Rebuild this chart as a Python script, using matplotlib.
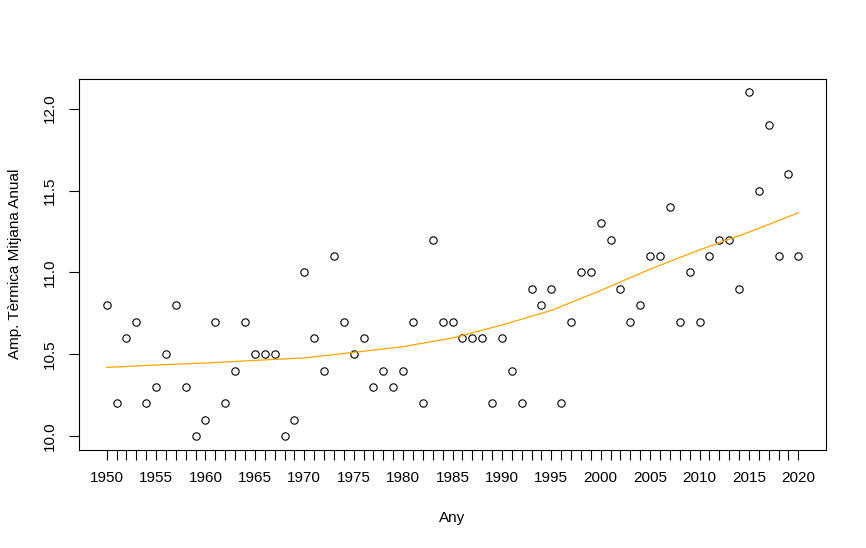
import matplotlib
matplotlib.use("Agg")
import matplotlib.pyplot as plt
import numpy as np

years = list(range(1950, 2021))
values = [10.8, 10.2, 10.6, 10.7, 10.2, 10.3, 10.5, 10.8, 10.3, 10.0,
          10.1, 10.7, 10.2, 10.4, 10.7, 10.5, 10.5, 10.5, 10.0, 10.1,
          11.0, 10.6, 10.4, 11.1, 10.7, 10.5, 10.6, 10.3, 10.4, 10.3,
          10.4, 10.7, 10.2, 11.2, 10.7, 10.7, 10.6, 10.6, 10.6, 10.2,
          10.6, 10.4, 10.2, 10.9, 10.8, 10.9, 10.2, 10.7, 11.0, 11.0,
          11.3, 11.2, 10.9, 10.7, 10.8, 11.1, 11.1, 11.4, 10.7, 11.0,
          10.7, 11.1, 11.2, 11.2, 10.9, 12.1, 11.5, 11.9, 11.1, 11.6,
          11.1]

trend_years = [1950, 1955, 1960, 1965, 1970, 1975, 1980, 1985, 1990, 1995,
               2000, 2005, 2010, 2015, 2020]
trend_values = [10.42, 10.435, 10.447, 10.463, 10.478, 10.512, 10.547, 10.60,
                10.679, 10.768, 10.89, 11.02, 11.138, 11.246, 11.364]

xtick_labels = [str(y) for y in range(1950, 2021, 5)]
ytick_values = [10.0, 10.5, 11.0, 11.5, 12.0]

plt.rcParams['font.family'] = ['Liberation Sans', 'DejaVu Sans']

W, H = 866, 548
fig = plt.figure(figsize=(W / 100, H / 100), dpi=100)
left, right, top, bottom = 79, 826, 78.5, 450
ax = fig.add_axes([left / W, 1 - bottom / H, (right - left) / W, (bottom - top) / H])

ax.plot(years, values, linestyle='none', marker='o', markersize=5.3,
        markerfacecolor='none', markeredgecolor='black', markeredgewidth=0.8)
ax.plot(trend_years, trend_values, color='#FFA500', linewidth=0.9)

ax.set_xlim(1947.2, 2022.8)
ax.set_ylim(9.916, 12.184)

ax.set_xticks(years)
ax.set_xticklabels([str(y) if y % 5 == 0 else '' for y in years])
ax.set_yticks(ytick_values)
ax.set_yticklabels([f"{v:.1f}" for v in ytick_values], rotation=90, va='center')

fs = 11
for s in ax.spines.values():
    s.set_linewidth(0.8)
ax.tick_params(axis='both', direction='out', length=7, width=0.8, labelsize=fs,
               colors='black')
ax.tick_params(axis='x', pad=8)
ax.tick_params(axis='y', pad=9)

ax.set_xlabel('Any', fontsize=fs, labelpad=19)
ax.set_ylabel('Amp. Tèrmica Mitjana Anual', fontsize=fs, labelpad=15)

fig.savefig('out.png', dpi=100)
